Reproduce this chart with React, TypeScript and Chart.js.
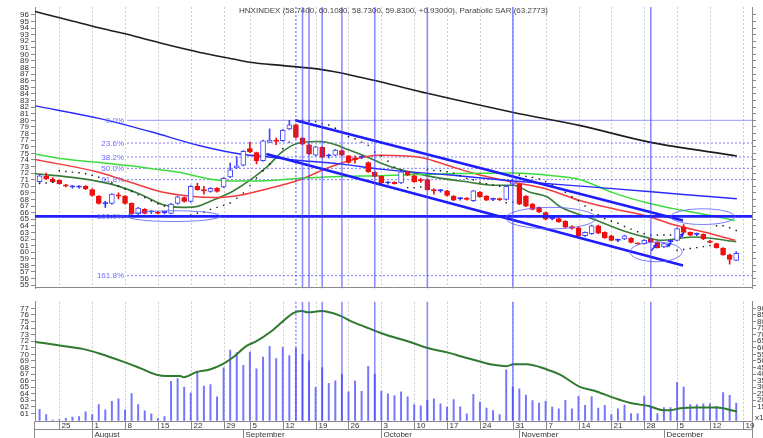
import React, { useEffect, useRef } from 'react';
import { Chart, registerables } from 'chart.js';

Chart.register(...registerables);

// ---------- data (trading-day index 0 = 2011-07-20 ... 106 = 2011-12-16) ----------
const OPEN = [70.7, 71.5, 71.1, 70.9, 70.2, 69.9, 69.85, 70.0, 69.5, 68.5,
  67.35, 67.4, 68.7, 68.5, 67.4, 65.8, 66.5, 66.1, 66.1, 66.0,
  65.9, 67.4, 68.3, 67.7, 70.0, 69.4, 69.2, 69.7, 69.9, 71.4,
  72.8, 73.2, 75.7, 75.1, 73.9, 76.7, 77.0, 76.9, 78.7, 79.3,
  77.3, 76.3, 74.7, 75.9, 74.6, 74.7, 75.4, 74.6, 74.3, 74.4,
  73.6, 72.1, 71.5, 70.5, 70.6, 70.5, 72.2, 71.6, 71.0, 71.0,
  69.4, 69.3, 69.3, 68.5, 68.1, 68.2, 67.8, 69.1, 68.5, 68.0,
  68.1, 68.0, 70.3, 70.3, 68.5, 67.3, 66.8, 66.0, 65.1, 65.1,
  64.7, 63.9, 63.7, 62.5, 62.8, 64.0, 63.0, 62.5, 61.8, 62.0,
  62.1, 61.35, 61.3, 62.0, 61.5, 60.8, 61.6, 61.8, 63.8, 63.0,
  62.7, 62.7, 61.7, 61.3, 60.6, 59.6, 58.74];
const HIGH = [71.8, 72.0, 71.3, 71.0, 70.3, 70.1, 70.1, 70.1, 69.6, 68.6,
  67.7, 68.9, 69.0, 68.6, 67.5, 66.8, 66.6, 66.3, 66.2, 66.2,
  67.4, 68.5, 68.4, 70.1, 70.5, 70.0, 69.8, 69.8, 71.3, 73.5,
  74.5, 75.4, 76.7, 75.2, 77.0, 78.7, 77.3, 78.6, 80.0, 79.4,
  77.4, 76.4, 76.1, 76.0, 74.9, 75.6, 75.5, 74.7, 74.6, 74.6,
  73.7, 72.2, 71.6, 70.7, 70.7, 72.3, 72.3, 71.7, 71.2, 71.1,
  69.6, 69.5, 69.4, 68.6, 68.3, 68.3, 69.4, 69.2, 68.6, 68.2,
  68.2, 70.1, 70.8, 70.4, 68.6, 67.4, 66.9, 66.1, 65.3, 65.2,
  64.8, 64.0, 63.8, 63.1, 64.1, 64.1, 63.1, 62.6, 62.0, 62.6,
  62.2, 61.4, 61.9, 62.1, 61.6, 61.4, 61.8, 63.7, 64.2, 63.1,
  62.9, 62.8, 61.8, 61.4, 60.7, 59.7, 60.108];
const LOW = [70.5, 71.0, 70.6, 70.3, 69.9, 69.7, 69.7, 69.5, 68.5, 67.3,
  66.8, 67.3, 68.1, 67.3, 65.7, 65.7, 65.8, 65.9, 65.8, 65.8,
  65.8, 67.3, 67.6, 67.6, 69.4, 68.8, 69.1, 69.1, 69.8, 71.3,
  72.7, 73.1, 75.1, 73.4, 73.8, 76.6, 76.3, 76.8, 78.6, 77.3,
  76.3, 74.8, 74.6, 74.3, 74.3, 74.6, 74.6, 73.5, 73.5, 74.2,
  72.1, 71.4, 70.4, 70.3, 70.3, 70.4, 71.6, 70.6, 70.6, 69.4,
  68.8, 69.1, 68.5, 67.8, 67.9, 67.9, 67.7, 68.3, 67.8, 67.8,
  67.8, 67.9, 70.2, 67.2, 66.9, 66.4, 66.0, 64.9, 64.9, 64.5,
  63.7, 63.5, 62.4, 62.4, 62.7, 62.8, 62.1, 61.7, 61.6, 61.9,
  61.4, 61.2, 61.2, 61.5, 60.6, 60.7, 61.4, 61.7, 62.9, 62.5,
  62.5, 61.9, 61.4, 60.6, 59.5, 58.2, 58.73];
const CLOSE = [71.6, 71.1, 70.7, 70.4, 70.0, 69.92, 69.87, 69.6, 68.6, 67.4,
  67.38, 68.8, 68.5, 67.4, 65.8, 66.7, 65.9, 66.12, 65.9, 66.02,
  67.3, 68.4, 67.7, 70.0, 69.5, 69.3, 69.7, 69.2, 71.2, 72.5,
  73.1, 75.3, 75.2, 73.9, 76.9, 77.0, 76.8, 78.5, 79.3, 77.4,
  76.4, 74.9, 76.0, 74.4, 74.63, 75.5, 74.7, 73.6, 74.0, 74.42,
  72.2, 71.5, 70.5, 70.52, 70.4, 72.2, 71.7, 70.7, 70.8, 69.5,
  69.3, 69.32, 68.6, 67.9, 68.12, 68.0, 69.3, 68.4, 67.9, 68.02,
  67.95, 70.0, 70.7, 67.3, 67.0, 66.5, 66.1, 65.0, 65.12, 64.6,
  63.8, 63.6, 62.5, 63.0, 64.0, 62.9, 62.2, 61.8, 61.82, 62.5,
  61.5, 61.25, 61.8, 61.6, 60.7, 61.3, 61.62, 63.6, 63.0, 62.6,
  62.72, 62.0, 61.5, 60.7, 59.6, 58.9, 59.83];
const SAR = [70.4, 70.5, 70.6,
  72.35, 72.25, 72.15, 72.06, 71.9, 71.67, 71.37, 71.03, 70.54, 70.05, 69.56, 69.2, 68.7, 68.3, 67.8, 67.35, 67.0,
  65.4, 65.4, 65.5, 65.65, 65.9, 66.1, 66.5, 66.8, 67.1, 67.45, 68.2, 69.0, 70.1, 71.25, 72.35, 73.35, 74.5, 75.7, 76.7,
  80.0, 80.0, 79.9, 79.8, 79.5, 79.3, 78.8, 78.2, 77.5, 77.2, 76.7, 76.2, 75.2, 74.6, 73.8, 72.9, 72.5,
  69.8, 69.8, 69.9,
  72.5, 72.4, 72.35, 72.2, 72.0, 71.6, 71.2, 71.0, 70.6, 70.4, 70.2, 70.0,
  67.5, 67.6,
  71.7, 71.5, 71.35, 71.1, 70.7, 70.2, 69.6, 69.1, 68.4, 67.8, 67.0, 66.4, 65.7, 65.1, 64.7, 64.4, 63.9, 63.5, 63.1, 62.8, 62.6, 62.6, 62.6, 62.6,
  60.3, 60.4, 60.55, 60.7, 60.85, 61.0,
  64.0, 64.0, 63.7, 63.28];
const VOLUME = [13.2, 9.1, 5.0, 5.2, 6.2, 7.2, 7.6, 11.3, 9.1, 16.8,
  12.7, 19.2, 21.1, 12.7, 25.2, 16.8, 12.0, 9.6, 6.0, 7.6,
  34.4, 36.5, 30.0, 25.7, 40.9, 30.8, 32.0, 22.6, 44.7, 58.2,
  56.3, 46.7, 56.8, 44.0, 52.9, 61.1, 51.7, 60.4, 54.1, 60.0,
  55.0, 50.0, 29.8, 45.0, 32.9, 34.9, 40.0, 26.4, 34.6, 26.9,
  45.9, 40.0, 26.9, 25.0, 23.5, 26.4, 22.6, 16.8, 15.8, 20.0,
  21.1, 17.3, 14.9, 20.6, 15.1, 9.6, 24.5, 18.7, 14.1, 12.2,
  9.1, 43.3, 30.0, 28.8, 24.0, 19.7, 17.8, 19.4, 14.9, 13.4,
  19.9, 13.4, 23.1, 16.1, 22.8, 14.1, 16.1, 9.1, 13.4, 16.3,
  9.8, 9.8, 23.1, 15.0, 9.8, 14.4, 14.4, 33.7, 30.0, 16.8,
  16.8, 17.3, 17.3, 15.4, 25.9, 23.8, 17.8];

// moving-average style lines: [day, value] vertices
const BLACK_MA = [[-0.7, 96.5], [4.1, 95.3], [9.2, 94.0], [14.3, 92.8], [19.3, 91.5], [24.4, 90.3], [29.5, 89.3], [32, 88.8], [37.1, 88.3], [42.2, 87.8], [44.7, 87.4], [51.8, 85.85], [59, 84.1], [72.1, 81.2], [82.3, 79.2], [92.8, 76.7], [106.1, 74.6]];
const BLUE_MA = [[-0.7, 82.2], [9.2, 80.25], [16.8, 78.3], [24.4, 76.15], [30.5, 74.9], [34.8, 74.45], [39.6, 73.9], [45.7, 73.4], [51.8, 72.6], [62.5, 71.7], [72.1, 70.8], [85.3, 69.8], [97.5, 68.8], [106.1, 68.1]];
const GREEN_MA = [[-0.7, 74.9], [3.1, 74.2], [9.2, 73.6], [13.8, 73.1], [17.5, 72.6], [21.4, 72.1], [24.4, 71.4], [26.5, 71.0], [29.4, 70.8], [34.6, 70.85], [39.6, 71.2], [44.7, 71.45], [51.8, 71.6], [62.0, 71.9], [72.1, 72.0], [78.1, 71.6], [82.3, 71.0], [87.3, 69.0], [92.4, 67.5], [97.5, 66.4], [102.5, 65.5], [105.8, 64.8]];
const RED_MA = [[-0.7, 74.05], [8.7, 72.2], [13.8, 70.6], [18.8, 69.1], [22.9, 68.5], [26.7, 68.3], [30.5, 68.65], [34.6, 69.6], [39.6, 71.0], [44.7, 73.1], [49.8, 74.5], [51.8, 74.7], [58.4, 74.3], [62.0, 73.2], [67.0, 71.7], [72.1, 70.6], [77.2, 69.55], [82.3, 67.8], [87.3, 66.6], [92.4, 65.5], [96.4, 64.2], [102.5, 62.7], [105.8, 61.8]];
const DKGREEN_MA = [[-0.7, 71.9], [6.1, 71.2], [11.2, 70.25], [15.3, 68.8], [18.8, 67.2], [21.8, 66.8], [24.0, 66.95], [25.9, 67.7], [29.4, 69.25], [34.6, 72.95], [37.0, 75.3], [39.6, 76.6], [42.7, 76.8], [44.7, 76.4], [47.2, 75.45], [49.8, 74.45], [53.3, 73.0], [59.4, 71.5], [64.4, 70.75], [69.6, 70.15], [72.1, 70.15], [74.6, 69.1], [77.2, 68.4], [79.2, 66.9], [84.2, 65.05], [89.4, 63.05], [92.9, 62.1], [94.4, 61.8], [99.5, 62.3], [106.0, 61.6]];
const LOWER_MA = [[-0.7, 71.9], [3.1, 71.36], [6.7, 70.8], [9.2, 70.1], [12.7, 68.9], [15.3, 67.9], [17.8, 66.9], [19.3, 66.7], [21.4, 66.7], [21.9, 66.5], [23.9, 67.3], [25.9, 67.7], [28, 68.6], [29.5, 69.6], [31.5, 71.3], [33, 72.0], [35.1, 73.4], [37.1, 75.1], [38.6, 76.3], [39.9, 76.6], [40.9, 76.4], [42.9, 76.6], [45.7, 75.9], [47.7, 74.9], [50.8, 73.7], [51.8, 73.3], [56.9, 71.7], [58.9, 71.0], [62, 70.3], [64.5, 69.6], [67, 68.9], [69.1, 68.4], [71.1, 68.2], [72.1, 68.5], [74.1, 68.5], [77.2, 67.7], [79.2, 66.9], [82.3, 65.0], [84.3, 64.5], [87.3, 63.4], [89.9, 62.6], [92.8, 62.1], [94.9, 61.5], [96, 61.5], [97.5, 61.8], [100, 61.9], [103.1, 61.9], [105.6, 61.4], [106.1, 61.3]];

// drawing tools (in data units: day, price)
const UPPER_CHANNEL = [[38.9, 80.0], [97.9, 64.8]];
const LOWER_CHANNEL = [[34.5, 74.9], [97.9, 58.0]];
const FIB_LEVELS = [80.0, 76.56, 74.44, 72.72, 71.0, 65.44, 56.44];
const FIB_LABELS = ['0.0%', '23.6%', '38.2%', '50.0%', '61.8%', '100.0%', '161.8%'];
const FIB_LABEL_DAY = 12.85;
const FIB_START_DAY = 13.3;
const VLINE_DAYS = [40, 41, 43, 46, 51, 59, 72, 93];
const DOTTED_VLINE_DAYS = [39];
const ELLIPSES = [
  { day: 20.4, price: 65.47, rDay: 7.1, rPrice: 0.82 },
  { day: 77.8, price: 65.17, rDay: 6.85, rPrice: 1.63 },
  { day: 93.8, price: 60.04, rDay: 3.96, rPrice: 1.49 },
  { day: 100.9, price: 65.39, rDay: 4.87, rPrice: 1.19 },
];
const ARROWS = [[93.05, 60.2, 93.8, 61.1], [95.4, 60.8, 95.95, 61.25], [97.4, 62.2, 97.9, 62.8]];

// axes
const WEEK_TICK_DAYS = [3, 8, 13, 18, 23, 28, 32, 37, 42, 47, 52, 57, 62, 67, 72, 77, 82, 87, 92, 97, 102, 107];
const WEEK_TICK_LABELS = ['25', '1', '8', '15', '22', '29', '5', '12', '19', '26', '3', '10', '17', '24', '31', '7', '14', '21', '28', '5', '12', '19'];
const MONTH_START_DAYS = [8, 31, 52, 73, 95];
const MONTH_LABELS = ['August', 'September', 'October', 'November', 'December'];
const PRICE_TICKS = [55, 56, 57, 58, 59, 60, 61, 62, 63, 64, 65, 66, 67, 68, 69, 70, 71, 72, 73, 74, 75, 76, 77, 78, 79, 80, 81, 82, 83, 84, 85, 86, 87, 88, 89, 90, 91, 92, 93, 94, 95, 96];
const LOWER_TICKS = [61, 62, 63, 64, 65, 66, 67, 68, 69, 70, 71, 72, 73, 74, 75, 76, 77];
const VOL_TICKS = [15, 20, 25, 30, 35, 40, 45, 50, 55, 60, 65, 70, 75, 80, 85, 90];
const TITLE = 'HNXINDEX (58.7400, 60.1080, 58.7300, 59.8300, +0.93000), Parabolic SAR (63.2773)';

// ---------- layout / style ----------
const W = 763, TOP_H = 295, BOT_H = 143;
const X_MIN = -0.7, X_MAX = 108.4;
const PRICE_MIN = 54.54, PRICE_MAX = 97.19;
const LOWER_MIN = 59.89, LOWER_MAX = 78.01;
const VOL_MIN = 4.45, VOL_MAX = 95.05;
const FONT = '"Liberation Sans", Arial, sans-serif';
const AXIS = '#8a8a8a';
const TXT = '#333';
const UP = '#4646ff';
const DOWN = '#ee1010';
const DOJI = '#3030ff';

const kind = (i: number) => Math.abs(CLOSE[i] - OPEN[i]) < 0.05 ? 'doji' : CLOSE[i] > OPEN[i] ? 'up' : 'down';

function xAxis() {
  return {
    type: 'linear', min: X_MIN, max: X_MAX, offset: false, display: true,
    grid: { display: false }, border: { display: false }, ticks: { display: false },
    afterFit: (s: any) => { s.height = 0; },
  };
}
function yAxis(pos: string, min: number, max: number, ticks: number[], show: boolean, width: number, fmt?: (v: number) => string) {
  return {
    type: 'linear', position: pos, min, max,
    afterBuildTicks: (s: any) => { s.ticks = ticks.map((v) => ({ value: v })); },
    afterFit: (s: any) => { s.width = width; },
    grid: { drawOnChartArea: false, drawTicks: true, tickLength: 4, color: AXIS, lineWidth: 1 },
    border: { display: true, color: AXIS, width: 1 },
    ticks: { display: show, autoSkip: false, padding: pos === 'left' ? 2 : 1, color: TXT, font: { family: FONT, size: 8 }, callback: (v: any) => (fmt ? fmt(v) : String(v)) },
  };
}
const pts = (arr: number[][]) => arr.map(([x, y]) => ({ x, y }));
const lineDs = (arr: number[][], color: string, width: number, order: number, extra: any = {}) => ({
  type: 'line', data: pts(arr), borderColor: color, borderWidth: width, pointRadius: 0,
  cubicInterpolationMode: 'monotone', fill: false, order, yAxisID: 'y', ...extra,
});

function mondayGrid(chart: any) {
  const { ctx, chartArea: a, scales } = chart;
  ctx.save();
  ctx.strokeStyle = '#cdcdcd'; ctx.lineWidth = 1; ctx.setLineDash([2, 2]);
  for (const d of WEEK_TICK_DAYS) {
    const px = Math.round(scales.x.getPixelForValue(d)) + 0.5;
    if (px <= a.left + 1 || px >= a.right - 1) continue;
    ctx.beginPath(); ctx.moveTo(px, a.top); ctx.lineTo(px, a.bottom); ctx.stroke();
  }
  ctx.restore();
}
function vLines(chart: any) {
  const { ctx, chartArea: a, scales } = chart;
  ctx.save();
  ctx.strokeStyle = 'rgba(70,70,255,0.62)'; ctx.lineWidth = 1.6;
  for (const d of VLINE_DAYS) {
    const px = scales.x.getPixelForValue(d);
    ctx.beginPath(); ctx.moveTo(px, a.top); ctx.lineTo(px, a.bottom); ctx.stroke();
  }
  ctx.setLineDash([2, 2]); ctx.lineWidth = 1.3; ctx.strokeStyle = 'rgba(70,70,255,0.7)';
  for (const d of DOTTED_VLINE_DAYS) {
    const px = scales.x.getPixelForValue(d);
    ctx.beginPath(); ctx.moveTo(px, a.top); ctx.lineTo(px, a.bottom); ctx.stroke();
  }
  ctx.restore();
}

const topPlugin = {
  id: 'topDecor',
  beforeDatasetsDraw(chart: any) { mondayGrid(chart); },
  afterDatasetsDraw(chart: any) {
    const { ctx, scales: { x, y } } = chart;
    vLines(chart);
    ctx.save();
    ctx.strokeStyle = 'rgba(100,100,255,0.85)'; ctx.lineWidth = 1;
    for (const e of ELLIPSES) {
      const cx = x.getPixelForValue(e.day), cy = y.getPixelForValue(e.price);
      const rx = Math.abs(x.getPixelForValue(e.day + e.rDay) - cx);
      const ry = Math.abs(y.getPixelForValue(e.price + e.rPrice) - cy);
      ctx.beginPath(); ctx.ellipse(cx, cy, rx, ry, 0, 0, Math.PI * 2); ctx.stroke();
    }
    ctx.strokeStyle = '#2a2aff'; ctx.fillStyle = '#2a2aff'; ctx.lineWidth = 1.5;
    for (const [d0, p0, d1, p1] of ARROWS) {
      const x0 = x.getPixelForValue(d0), y0 = y.getPixelForValue(p0);
      const x1 = x.getPixelForValue(d1), y1 = y.getPixelForValue(p1);
      ctx.beginPath(); ctx.moveTo(x0, y0); ctx.lineTo(x1, y1); ctx.stroke();
      const ang = Math.atan2(y1 - y0, x1 - x0);
      ctx.beginPath(); ctx.moveTo(x1 + Math.cos(ang) * 2, y1 + Math.sin(ang) * 2);
      ctx.lineTo(x1 + Math.cos(ang + 2.5) * 3.5, y1 + Math.sin(ang + 2.5) * 3.5);
      ctx.lineTo(x1 + Math.cos(ang - 2.5) * 3.5, y1 + Math.sin(ang - 2.5) * 3.5);
      ctx.closePath(); ctx.fill();
    }
    ctx.font = `8px ${FONT}`; ctx.fillStyle = '#6c6cff'; ctx.textAlign = 'right'; ctx.textBaseline = 'middle';
    FIB_LEVELS.forEach((lv, k) => {
      ctx.fillText(FIB_LABELS[k], x.getPixelForValue(FIB_LABEL_DAY), y.getPixelForValue(lv) + 0.5);
    });
    ctx.restore();
  },
  afterDraw(chart: any) {
    const { ctx, chartArea: a } = chart;
    ctx.save();
    ctx.font = `8px ${FONT}`; ctx.fillStyle = '#444'; ctx.textAlign = 'center'; ctx.textBaseline = 'middle';
    ctx.fillText(TITLE, (a.left + a.right) / 2, 11);
    ctx.strokeStyle = AXIS; ctx.lineWidth = 1;
    const yb = Math.round(a.bottom) - 0.5;
    ctx.beginPath(); ctx.moveTo(a.left, yb); ctx.lineTo(a.right, yb); ctx.stroke();
    ctx.restore();
  },
};

const botPlugin = {
  id: 'botDecor',
  beforeDatasetsDraw(chart: any) { mondayGrid(chart); },
  afterDatasetsDraw(chart: any) { vLines(chart); },
  afterDraw(chart: any) {
    const { ctx, chartArea: a, scales: { x } } = chart;
    const y0 = Math.round(a.bottom) + 0.5;
    const y1 = y0 + 8;
    const y2 = chart.height;
    ctx.save();
    ctx.strokeStyle = AXIS; ctx.lineWidth = 1;
    ctx.beginPath();
    ctx.moveTo(a.left, y0); ctx.lineTo(a.right, y0);
    ctx.moveTo(a.left, y1); ctx.lineTo(a.right, y1);
    ctx.moveTo(Math.round(a.left) - 0.5, y0); ctx.lineTo(Math.round(a.left) - 0.5, y2);
    ctx.moveTo(Math.round(a.right) + 0.5, y0); ctx.lineTo(Math.round(a.right) + 0.5, y2);
    for (const d of WEEK_TICK_DAYS) {
      const px = Math.round(x.getPixelForValue(d)) + 0.5;
      ctx.moveTo(px, y0); ctx.lineTo(px, y1);
    }
    for (const d of MONTH_START_DAYS) {
      const px = Math.round(x.getPixelForValue(d)) + 0.5;
      ctx.moveTo(px, y1); ctx.lineTo(px, y2);
    }
    ctx.stroke();
    ctx.font = `8px ${FONT}`; ctx.fillStyle = TXT; ctx.textAlign = 'left'; ctx.textBaseline = 'middle';
    WEEK_TICK_DAYS.forEach((d, k) => {
      ctx.fillText(WEEK_TICK_LABELS[k], Math.round(x.getPixelForValue(d)) + 2.5, y0 + 4.3);
    });
    MONTH_START_DAYS.forEach((d, k) => {
      ctx.fillText(MONTH_LABELS[k], Math.round(x.getPixelForValue(d)) + 2.5, y1 + 5);
    });
    ctx.fillText('x10', a.right + 3, a.bottom - 3);
    ctx.restore();
  },
};

export default function App() {
  const topRef = useRef<HTMLCanvasElement>(null);
  const botRef = useRef<HTMLCanvasElement>(null);

  useEffect(() => {
    const days = OPEN.map((_, i) => i);
    const candleColor = (i: number) => (kind(i) === 'down' ? DOWN : kind(i) === 'up' ? UP : DOJI);
    const top = new Chart(topRef.current as HTMLCanvasElement, {
      type: 'bar',
      data: {
        datasets: [
          ...FIB_LEVELS.map((lv, k) => (k === 5
            ? { type: 'line', data: [{ x: X_MIN, y: lv }, { x: X_MAX, y: lv }], borderColor: '#2020ff', borderWidth: 2.6, pointRadius: 0, order: 3, yAxisID: 'y' }
            : { type: 'line', data: [{ x: FIB_START_DAY, y: lv }, { x: X_MAX, y: lv }], borderColor: k === 0 ? 'rgba(120,120,255,0.75)' : 'rgba(100,100,255,0.85)', borderWidth: 1, borderDash: k === 0 ? [] : [2, 2], pointRadius: 0, order: 20, yAxisID: 'y' })),
          lineDs(BLACK_MA, '#1e1e1e', 1.6, 15),
          lineDs(BLUE_MA, '#2a2aff', 1.4, 15),
          lineDs(GREEN_MA, '#3ddc3d', 1.5, 15),
          lineDs(RED_MA, '#f23c3c', 1.5, 15),
          lineDs(DKGREEN_MA, '#3a7d3a', 1.6, 15),
          {
            type: 'bar', data: days.map((i) => ({ x: i, y: [LOW[i], HIGH[i]] })),
            backgroundColor: days.map(candleColor), barThickness: 1, grouped: false, order: 12, yAxisID: 'y',
          },
          {
            type: 'bar', data: days.map((i) => ({ x: i, y: [OPEN[i], CLOSE[i]] })),
            backgroundColor: days.map((i) => (kind(i) === 'up' ? '#ffffff' : candleColor(i))),
            borderColor: days.map(candleColor), borderWidth: 1, borderSkipped: false,
            barThickness: 5, minBarLength: 1.2, grouped: false, order: 11, yAxisID: 'y',
          },
          {
            type: 'line', data: days.map((i) => ({ x: i, y: SAR[i] })), showLine: false,
            pointStyle: 'rect', pointRadius: 1, pointBackgroundColor: '#151515', pointBorderWidth: 0, order: 10, yAxisID: 'y',
          },
          { type: 'line', data: pts(UPPER_CHANNEL), borderColor: '#1c1cff', borderWidth: 2.6, pointRadius: 0, order: 2, yAxisID: 'y' },
          { type: 'line', data: pts(LOWER_CHANNEL), borderColor: '#1c1cff', borderWidth: 2.6, pointRadius: 0, order: 2, yAxisID: 'y' },
        ],
      },
      options: {
        responsive: false, animation: false, events: [],
        layout: { padding: { top: 7, bottom: 1, left: 0, right: 0 } },
        plugins: { legend: { display: false }, tooltip: { enabled: false } },
        scales: {
          x: xAxis(),
          y: yAxis('left', PRICE_MIN, PRICE_MAX, PRICE_TICKS, true, 35),
          yr: yAxis('right', PRICE_MIN, PRICE_MAX, PRICE_TICKS, false, 11),
        },
      } as any,
      plugins: [topPlugin],
    } as any);

    const bot = new Chart(botRef.current as HTMLCanvasElement, {
      type: 'bar',
      data: {
        datasets: [
          {
            type: 'bar', data: days.map((i) => ({ x: i, y: VOLUME[i] })), backgroundColor: 'rgba(70,70,255,0.75)',
            barThickness: 1.3, grouped: false, order: 5, yAxisID: 'yv',
          },
          lineDs(LOWER_MA, '#2f7a2f', 2, 2),
        ],
      },
      options: {
        responsive: false, animation: false, events: [],
        layout: { padding: { top: 0, bottom: 17.3, left: 0, right: 0 } },
        plugins: { legend: { display: false }, tooltip: { enabled: false } },
        scales: {
          x: xAxis(),
          y: yAxis('left', LOWER_MIN, LOWER_MAX, LOWER_TICKS, true, 35),
          yv: yAxis('right', VOL_MIN, VOL_MAX, VOL_TICKS, true, 11),
        },
      } as any,
      plugins: [botPlugin],
    } as any);

    return () => { top.destroy(); bot.destroy(); };
  }, []);

  return (
    <div style={{ position: 'absolute', left: 0, top: 0, width: W, height: TOP_H + BOT_H, background: '#fff', overflow: 'hidden' }}>
      <canvas ref={topRef} width={W} height={TOP_H} style={{ position: 'absolute', left: 0, top: 0, width: W, height: TOP_H }} />
      <canvas ref={botRef} width={W} height={BOT_H} style={{ position: 'absolute', left: 0, top: TOP_H, width: W, height: BOT_H }} />
    </div>
  );
}
